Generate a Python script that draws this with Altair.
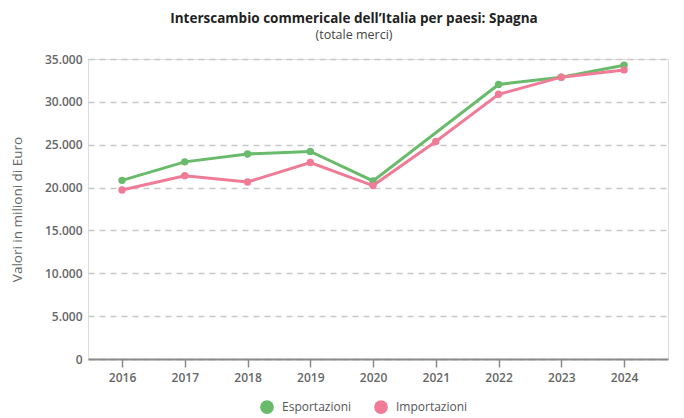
import altair as alt
import pandas as pd

years = [2016, 2017, 2018, 2019, 2020, 2021, 2022, 2023, 2024]
esportazioni = [20840, 23000, 23920, 24220, 20780, None, 32030, 32880, 34270]
importazioni = [19720, 21380, 20650, 22920, 20230, 25380, 30880, 32880, 33730]
series = ["Esportazioni", "Importazioni"]
colors = ["#69bb6b", "#ef7b97"]

rows = []
for y, e, i in zip(years, esportazioni, importazioni):
    rows.append({"anno": y, "serie": series[0], "valore": e})
    rows.append({"anno": y, "serie": series[1], "valore": i})
df = pd.DataFrame(rows)

FONT = "Open Sans"

x = alt.X("anno:Q",
          scale=alt.Scale(domain=[2015.458, 2024.70], nice=False, zero=False),
          axis=alt.Axis(values=years, format="d", title=None, grid=False,
                        domainColor="#8a8a8a", domainWidth=2, tickColor="#8a8a8a",
                        tickSize=8, tickWidth=1.5, labelColor="#666666",
                        labelFontSize=12, labelFont=FONT, labelPadding=5,
                        labelFontWeight=600))
y = alt.Y("valore:Q",
          scale=alt.Scale(domain=[0, 35000], nice=False),
          axis=alt.Axis(values=[0, 5000, 10000, 15000, 20000, 25000, 30000, 35000],
                        labelExpr="replace(format(datum.value, ','), ',', '.')",
                        title="Valori in milioni di Euro", titleColor="#666666",
                        titleFontSize=13.5, titleFont=FONT, titleFontWeight="normal",
                        titlePadding=20, domain=False, ticks=False,
                        labelColor="#666666", labelFontSize=12, labelFont=FONT,
                        labelPadding=6, labelFontWeight=600,
                        gridColor="#c8c8c8", gridDash=[6, 5], gridWidth=1.5))
color = alt.Color("serie:N",
                  scale=alt.Scale(domain=series, range=colors),
                  legend=alt.Legend(title=None, orient="none", direction="horizontal",
                                    legendX=172, legendY=341, symbolType="circle",
                                    symbolSize=190, symbolStrokeWidth=0,
                                    labelFont=FONT, labelFontSize=12,
                                    labelColor="#555555", columnPadding=22,
                                    labelOffset=8))

base = alt.Chart(df).transform_filter("isValid(datum.valore)")
lines = base.mark_line(strokeWidth=3).encode(x=x, y=y, color=color, detail="serie:N")
points = base.mark_circle(size=55, opacity=1).encode(x=x, y=y, color=color)

chart = alt.layer(lines, points).properties(
    width=580, height=300,
    autosize=alt.AutoSizeParams(type="none"),
    padding={"left": 88, "top": 59, "right": 16, "bottom": 59},
    title=alt.TitleParams(
        text="Interscambio commericale dell\u2019Italia per paesi: Spagna",
        subtitle="(totale merci)", anchor="middle", dx=-24,
        font=FONT, fontSize=13.5, fontWeight="bold", color="#222222",
        subtitleFont=FONT, subtitleFontSize=12.5, subtitleColor="#444444",
        subtitlePadding=3, offset=12),
).configure_view(stroke=None).configure(background="white")

chart.save("out.html", embed_options={"renderer": "svg", "actions": False})
